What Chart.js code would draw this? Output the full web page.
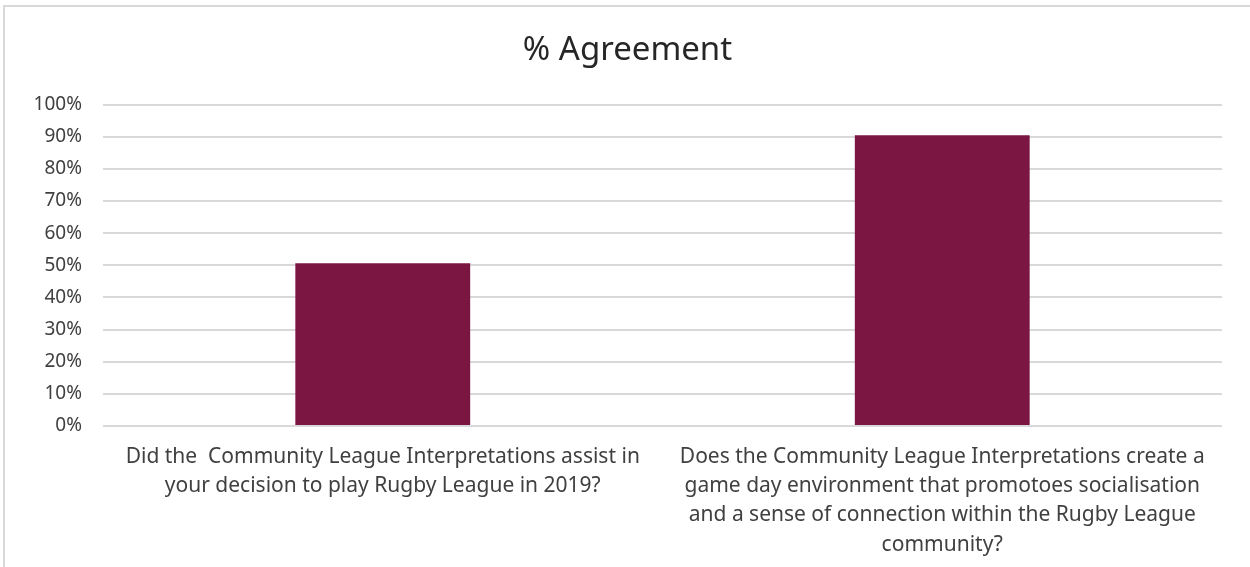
<!DOCTYPE html>
<html>
<head>
<meta charset="utf-8">
<script src="https://cdn.jsdelivr.net/npm/chart.js@4/dist/chart.umd.min.js"></script>
<style>
  html, body { margin: 0; padding: 0; background: #fff; overflow: hidden; }
  #frame {
    position: absolute; left: 3px; top: 5px;
    width: 1260px; height: 580px;
    border: 2px solid #d9d9d9; box-sizing: border-box;
  }
  #wrap { position: absolute; left: 5px; top: 7px; width: 1245px; height: 560px; }
</style>
</head>
<body>
<div id="frame"></div>
<div id="wrap"><canvas id="agreeChart"></canvas></div>
<script>
// % Agreement — two survey questions, single series
var categories = [
    ['Did the  Community League Interpretations assist in',
     'your decision to play Rugby League in 2019?'],
    ['Does the Community League Interpretations create a',
     'game day environment that promotoes socialisation',
     'and a sense of connection within the Rugby League',
     'community?']
];
var agreement = [50.6, 90.5];
var yTicks = [0, 10, 20, 30, 40, 50, 60, 70, 80, 90, 100];

var fontFamily = '"Noto Sans", "Open Sans", sans-serif';
var textColor = '#404040';

new Chart(document.getElementById('agreeChart').getContext('2d'), {
    type: 'bar',
    data: {
        labels: categories,
        datasets: [{
            label: '% Agreement',
            data: agreement,
            backgroundColor: '#7b1642',
            borderWidth: 0,
            barPercentage: 0.3125,
            categoryPercentage: 1
        }]
    },
    options: {
        responsive: true,
        maintainAspectRatio: false,
        animation: false,
        layout: { padding: 0 },
        scales: {
            x: {
                grid: { display: false, drawTicks: false },
                border: { display: false },
                ticks: {
                    color: textColor,
                    padding: 16,
                    maxRotation: 0,
                    autoSkip: false,
                    font: { family: fontFamily, size: 21, lineHeight: 1.4 }
                },
                afterFit: function (scale) { scale.height = 141; }
            },
            y: {
                min: 0,
                max: 100,
                afterBuildTicks: function (scale) {
                    scale.ticks = yTicks.map(function (v) { return { value: v }; });
                },
                grid: { color: '#d9d9d9', lineWidth: 2, drawTicks: false },
                border: { display: false },
                ticks: {
                    color: textColor,
                    padding: 21,
                    font: { family: fontFamily, size: 19 },
                    callback: function (v) { return v + '%'; }
                },
                afterFit: function (scale) { scale.width = 98; }
            },
            // empty right-hand gutter so the title stays centred on the whole frame
            yRight: {
                position: 'right',
                display: true,
                grid: { display: false, drawTicks: false },
                border: { display: false },
                ticks: { display: false },
                afterFit: function (scale) { scale.width = 28; }
            }
        },
        plugins: {
            legend: { display: false },
            tooltip: { enabled: false },
            title: {
                display: true,
                text: '% Agreement',
                color: '#262626',
                font: { family: fontFamily, size: 33, weight: 'normal', lineHeight: 1.2 },
                padding: { top: 24, bottom: 34 }
            }
        }
    }
});
</script>
</body>
</html>
